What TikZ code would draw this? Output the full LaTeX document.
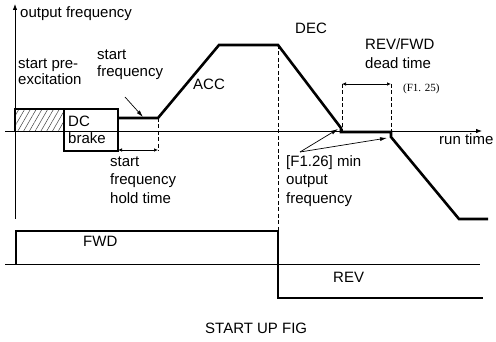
\documentclass[tikz,border=0pt]{standalone}
\usepackage{fontspec}
\setmainfont{Liberation Sans}
\newfontfamily\smallserif{Liberation Serif}
\usetikzlibrary{arrows.meta,patterns.meta}
\begin{document}
\begin{tikzpicture}[x=1pt,y=-1pt,
  thinln/.style={line width=0.8pt},
  thickln/.style={line width=2.6pt},
  dashln/.style={line width=0.7pt, dash pattern=on 4pt off 2.5pt},
  lbl/.style={font=\fontsize{15}{18}\selectfont, inner sep=0pt, anchor=mid west},
  axarrow/.style={line width=0.8pt, -{Latex[length=6pt,width=4.5pt]}},
  dimarrow/.style={line width=0.7pt, {Latex[length=4pt,width=3.5pt]}-{Latex[length=4pt,width=3.5pt]}},
  callout/.style={line width=0.7pt, -{Latex[length=7pt,width=4pt]}}]
\useasboundingbox (0,0) rectangle (496,342);
% axes
\coordinate (yb) at (15,219); \coordinate (yt) at (15,4);
\draw[axarrow] (yb) -- (yt);
\coordinate (xl) at (5,131); \coordinate (xr) at (482,131);
\draw[axarrow] (xl) -- (xr);
% pre-excitation (hatched)
\draw[thickln, pattern={Lines[angle=60,distance=5pt,line width=0.5pt]}, pattern color=black!75]
  (15,131) -- (15,109) -- (64,109) -- (64,131);
% DC brake box
\draw[thickln] (64,109) rectangle (118,151);
% start frequency hold time
\coordinate (h1) at (118,150); \coordinate (h2) at (158,150);
\draw[dimarrow] (h1) -- (h2);
\draw[dashln] (158,118) -- (158,151);
% frequency curve
\draw[thickln] (118,118) -- (158,118) -- (219,45) -- (278,45) -- (341,128) -- (341,132)
  -- (391,132) -- (391,137) -- (459,219) -- (488,219);
% dashed guides
\draw[dashln] (278,45) -- (278,231);
\draw[dashln] (342,84) -- (342,131);
\draw[dashln] (391,84) -- (391,131);
\coordinate (d1) at (342,84); \coordinate (d2) at (391,84);
\draw[dimarrow] (d1) -- (d2);
% run direction
\draw[thinln] (5,264) -- (480,264);
\draw[thickln] (16,264) -- (16,231) -- (278,231) -- (278,298) -- (483,298);
% labels
\node[lbl] (of) at (20,15) {output frequency};
\node[lbl] (sp1) at (18,66) {start pre-};
\node[lbl] (sp2) at (18,82) {excitation};
\node[lbl] (sf1) at (97,57) {start};
\node[lbl] (sf2) at (97,74) {frequency};
\node[lbl] (dc1) at (68,124) {DC};
\node[lbl] (dc2) at (68,141) {brake};
\node[lbl] (ht1) at (110,164) {start};
\node[lbl] (ht2) at (110,182) {frequency};
\node[lbl] (ht3) at (110,201) {hold time};
\node[lbl] (acc) at (193,87) {ACC};
\node[lbl] (dec) at (295,31) {DEC};
\node[lbl] (rf1) at (365,47) {REV/FWD};
\node[lbl] (rf2) at (365,66) {dead time};
\node[inner sep=0pt, anchor=mid west, font=\smallserif\fontsize{11}{13}\selectfont] (f125) at (403,89) {(F1. 25)};
\node[lbl] (mo1) at (286,164) {[F1.26] min};
\node[lbl] (mo2) at (286,182) {output};
\node[lbl] (mo3) at (286,201) {frequency};
\node[lbl] (rt) at (439,142) {run time};
\node[lbl] (fwd) at (83,244) {FWD};
\node[lbl] (rev) at (333,280) {REV};
\node[lbl] (fig) at (205,331) {START UP FIG};
% callouts
\coordinate (sfa) at (125,97); \coordinate (sfb) at (143,117);
\draw[callout] (sfa) -- (sfb);
\coordinate (moa) at (300,152); \coordinate (mob) at (338,129); \coordinate (moc) at (387,138);
\draw[callout] (moa) -- (mob);
\draw[callout] (moa) -- (moc);
\end{tikzpicture}
\end{document}
